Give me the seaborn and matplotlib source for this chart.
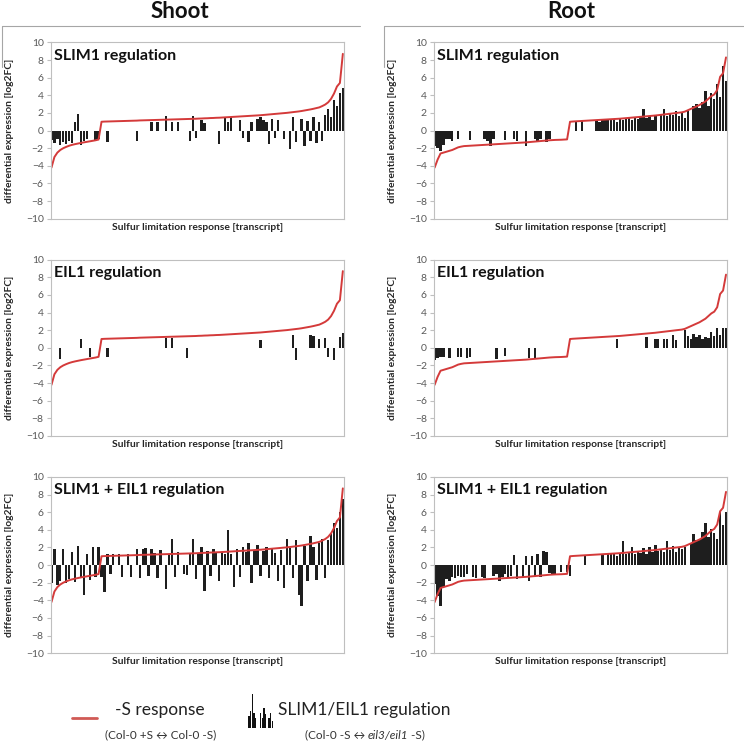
import matplotlib
matplotlib.use("Agg")
import matplotlib.pyplot as plt
import seaborn as sns
import pandas as pd
from matplotlib.lines import Line2D

# transcripts sorted by their -S response (x axis)
transcripts = list(range(100))

# -S response curve (Col-0 +S <-> Col-0 -S), log2FC
shoot_response = [
    -4.2, -3.0, -2.5, -2.2, -2.0, -1.85, -1.72, -1.62, -1.54, -1.47,
    -1.40, -1.34, -1.28, -1.22, -1.16, -1.10, -1.02, 1.00, 1.02, 1.03,
    1.04, 1.05, 1.06, 1.07, 1.08, 1.09, 1.10, 1.11, 1.12, 1.13,
    1.15, 1.16, 1.17, 1.18, 1.19, 1.20, 1.21, 1.22, 1.23, 1.24,
    1.25, 1.26, 1.27, 1.28, 1.29, 1.30, 1.31, 1.32, 1.33, 1.34,
    1.36, 1.37, 1.39, 1.40, 1.42, 1.43, 1.45, 1.46, 1.48, 1.50,
    1.52, 1.54, 1.56, 1.58, 1.60, 1.62, 1.64, 1.66, 1.68, 1.70,
    1.72, 1.74, 1.77, 1.80, 1.83, 1.86, 1.89, 1.92, 1.95, 1.98,
    2.01, 2.05, 2.09, 2.13, 2.17, 2.22, 2.28, 2.34, 2.40, 2.47,
    2.55, 2.63, 2.78, 2.95, 3.2, 3.6, 4.2, 5.0, 5.4, 8.7,
]
root_response = [
    -4.2, -3.3, -2.6, -2.5, -2.4, -2.3, -2.2, -2.05, -1.9, -1.82,
    -1.76, -1.74, -1.72, -1.70, -1.68, -1.66, -1.64, -1.62, -1.60, -1.58,
    -1.56, -1.54, -1.52, -1.50, -1.48, -1.46, -1.44, -1.42, -1.40, -1.38,
    -1.36, -1.34, -1.31, -1.28, -1.25, -1.22, -1.19, -1.16, -1.13, -1.10,
    -1.08, -1.06, -1.05, -1.04, -1.02, -1.00, 1.00, 1.03, 1.05, 1.07,
    1.09, 1.11, 1.13, 1.15, 1.17, 1.19, 1.21, 1.23, 1.25, 1.27,
    1.29, 1.31, 1.33, 1.35, 1.38, 1.41, 1.44, 1.47, 1.50, 1.53,
    1.56, 1.59, 1.62, 1.65, 1.68, 1.71, 1.75, 1.79, 1.83, 1.87,
    1.91, 1.95, 1.99, 2.03, 2.07, 2.15, 2.3, 2.45, 2.6, 2.75,
    2.9, 3.1, 3.3, 3.6, 3.9, 4.1, 4.6, 6.1, 6.5, 8.3,
]

# regulation (Col-0 -S <-> mutant -S), log2FC, 0 = not regulated
shoot_slim1 = [
    -1.1, -1.4, -1.0, -1.6, -1.3, -1.5, -1.2, -1.4, 1.0, 1.9,
    -1.6, -1.2, -1.0, 0, 0, -1.2, -0.9, 0, 0, -1.3,
    0, 0, 0, 0, 0, 0, 0, 0, 0, -1.2,
    0, 0, 0, 0, 1.0, 0, 1.0, 0, 0, 1.6,
    0, 1.0, 0, 1.0, 0, 0, 0, -1.2, 1.6, -0.8,
    0, 1.2, 0.9, 0, 0, 0, 0, -1.5, 0, 1.5,
    1.0, 1.5, 0, 0, 1.2, -0.8, 0, -1.3, 1.0, 0,
    1.3, 1.5, 1.2, 1.0, -1.5, 1.3, -0.8, 1.2, 0, -0.9,
    0, -2.1, 1.5, -1.3, 0, 1.3, -1.8, 1.1, -1.2, 1.5,
    -1.4, 1.0, -1.2, 1.8, 2.5, 1.5, 3.5, 2.8, 4.3, 4.8,
]
shoot_eil1 = [
    0, 0, 0, -1.3, 0, 0, 0, 0, 0, 0,
    1.0, 0, 0, -1.0, 0, 0, 0, 0, 0, -1.0,
    0, 0, 0, 0, 0, 0, 0, 0, 0, 0,
    0, 0, 0, 0, 0, 0, 0, 0, 0, 1.1,
    0, 1.1, 0, 0, 0, 0, -1.1, 0, 0, 0,
    0, 0, 0, 0, 0, 0, 0, 0, 0, 0,
    0, 0, 0, 0, 0, 0, 0, 0, 0, 0,
    0, 0.9, 0, 0, 0, 0, 0, 0, 0, 0,
    0, 0, 1.4, -1.4, 0, 0, 0, 0, 1.5, 1.3,
    0, 1.0, 0, 1.1, -1.0, 0, -1.4, 0, 1.2, 1.7,
]
shoot_both = [
    -2.0, 1.8, -2.3, -1.8, 1.8, -2.0, -1.6, 1.5, -1.9, 2.2,
    -1.5, -3.4, 1.3, -1.7, 2.0, -1.4, 2.1, -1.3, -3.0, 1.2,
    -1.0, 1.3, 0, 1.2, -1.4, 0, 1.3, -1.3, 0, 1.8,
    -1.5, 1.8, 1.9, -1.2, 1.8, 1.4, -1.5, 1.7, 0, -2.7,
    1.2, 3.0, -1.3, 1.5, 0, -1.0, -1.1, 1.4, 3.0, -1.6,
    1.3, 2.0, -2.9, 1.6, -1.2, 1.8, 1.4, -1.8, 1.5, 1.2,
    4.0, 1.3, -2.5, 1.8, -1.3, 2.0, 1.5, 2.5, -2.0, 1.7,
    2.3, -1.2, 1.6, 2.0, -1.5, 1.8, 1.4, -1.8, 1.7, -2.6,
    3.0, 1.9, -1.5, 2.8, -3.4, -4.6, 2.2, -1.8, 3.3, 2.0,
    -1.7, 2.5, 3.0, -1.5, 2.8, 3.5, 4.8, 4.2, 6.0, 7.5,
]
root_slim1 = [
    -1.8, -2.0, -2.3, -1.6, -1.0, -1.0, -1.2, 0, -1.0, 0,
    0, 0, -1.1, 0, 0, 0, 0, -1.0, -1.2, -1.8,
    -1.0, 0, 0, 0, -1.1, 0, 0, -1.0, -1.2, 0,
    0, -1.7, 0, 0, -1.0, -1.2, -1.0, 0, -1.3, -1.0,
    0, 0, 0, 0, 0, 0, 0, 0, 1.1, 0,
    1.1, 0, 0, 0, 0, 1.2, 1.0, 1.2, 1.2, 1.3,
    1.2, 1.3, 1.0, 1.4, 1.2, 1.3, 1.5, 1.2, 1.4, 1.3,
    1.6, 2.5, 1.4, 1.6, 1.2, 1.8, 0, 1.9, 2.4, 1.7,
    2.0, 1.8, 2.2, 1.6, 2.0, 1.4, 2.2, 0, 2.8, 3.0,
    2.6, 3.2, 4.5, 2.8, 4.3, 3.6, 5.3, 3.8, 7.3, 5.6,
]
root_eil1 = [
    -1.4, -1.2, -1.0, -1.0, 0, -1.1, 0, 0, -1.0, -1.0,
    0, -1.1, -1.0, 0, 0, 0, 0, 0, 0, 0,
    0, -1.3, 0, 0, -0.9, 0, 0, 0, 0, 0,
    0, 0, -1.1, 0, -1.2, 0, 0, 0, 0, 0,
    0, 0, 0, 0, 0, 0, 0, 0, 0, 0,
    0, 0, 0, 0, 0, 0, 0, 0, 0, 0,
    0, 0, 1.0, 0, 0, 0, 0, 0, 0, 0,
    0, 0, 1.2, 0, 0, 1.0, 1.0, 0, 1.0, 1.0,
    0, 1.5, 0.9, 0, 0, 2.0, 1.3, 1.0, 1.6, 1.2,
    1.4, 1.0, 1.2, 1.1, 1.8, 1.3, 2.2, 1.5, 2.3, 2.2,
]
root_both = [
    -2.2, -3.5, -4.6, -2.5, -1.6, -1.8, -1.3, -1.5, -1.2, -1.4,
    -1.3, -1.0, 0, -1.3, -1.5, 0, -1.3, -1.5, 0, 0,
    -1.2, -1.0, -1.8, -1.3, -1.0, -1.5, -1.2, 1.1, -1.6, 0,
    -1.5, 1.0, -1.8, 1.0, -1.3, 1.2, -1.4, 1.6, 1.5, -0.9,
    -1.0, -1.1, 0, -0.8, 0, -0.8, -1.2, 0, 0, 0,
    0, 1.0, 0, 0, 0, 0, 0, 1.2, 0, 1.3,
    1.2, 1.3, 1.0, 1.4, 2.7, 1.2, 1.5, 2.0, 1.3, 1.6,
    1.4, 1.9, 1.3, 2.0, 1.5, 2.3, 1.6, 1.8, 1.5, 2.7,
    1.7, 2.2, 1.5, 2.0, 1.8, 2.1, 0, 2.5, 3.5, 2.8,
    3.0, 3.8, 4.8, 3.2, 4.1, 3.6, 3.0, 6.0, 4.5, 6.0,
]

tissues = ["Shoot", "Root"]
panel_titles = ["SLIM1 regulation", "EIL1 regulation", "SLIM1 + EIL1 regulation"]
y_ticks = [-10, -8, -6, -4, -2, 0, 2, 4, 6, 8, 10]
legend_icon = [0.35, 0.5, 1.0, 0.45, 0.3, 0, 0, 0.45, 0.3, 0.6, 0.4, 0, 0.3, 0.45, 0.2]

responses = {"Shoot": shoot_response, "Root": root_response}
regulations = {
    "Shoot": [shoot_slim1, shoot_eil1, shoot_both],
    "Root": [root_slim1, root_eil1, root_both],
}

sns.set_style("white")
plt.rcParams["font.family"] = ["Lato", "DejaVu Sans"]

RED = "#d43a3a"
SPINE = "#bfbfbf"

fig = plt.figure(figsize=(7.44, 7.44), dpi=100)

col_left = {"Shoot": 0.068, "Root": 0.583}
row_bottom = [0.706, 0.414, 0.122]


def draw_panel(ax, response, regulation, title):
    df = pd.DataFrame({"transcript": transcripts,
                       "response": response,
                       "regulation": regulation})
    sns.barplot(data=df, x="transcript", y="regulation", color="#1e1e1e",
                saturation=1, width=0.8, linewidth=0, ax=ax)
    sns.lineplot(data=df, x="transcript", y="response", color=RED,
                 linewidth=1.4, ax=ax)
    ax.set_xlim(-0.3, len(transcripts) - 0.7)
    ax.set_ylim(-10, 10)
    ax.set_yticks(y_ticks)
    ax.set_xticks([])
    for sp in ax.spines.values():
        sp.set_color(SPINE)
        sp.set_linewidth(0.8)
    ax.tick_params(axis="y", left=True, length=3, width=0.8, color=SPINE,
                   labelcolor="#595959", labelsize=7.5, pad=2)
    ax.set_ylabel("differential expression [log2FC]", fontsize=7.4,
                  fontweight="bold", color="#262626")
    ax.yaxis.set_label_coords(-0.125, 0.5)
    ax.set_xlabel("Sulfur limitation response [transcript]", fontsize=7.4,
                  fontweight="bold", color="#262626")
    ax.xaxis.set_label_coords(0.5, -0.022)
    ax.text(0.012, 0.965, title, transform=ax.transAxes, ha="left", va="top",
            fontsize=11.5, fontweight="bold", color="#111111")


for tissue in tissues:
    for r, title in enumerate(panel_titles):
        ax = fig.add_axes([col_left[tissue], row_bottom[r], 0.394, 0.237])
        draw_panel(ax, responses[tissue], regulations[tissue][r], title)

# column headers with bracket lines
fig.text(180 / 744, 1 - 12 / 744, "Shoot", ha="center", va="center",
         fontsize=16, fontweight="bold", color="#111111")
fig.text(571 / 744, 1 - 12 / 744, "Root", ha="center", va="center",
         fontsize=16, fontweight="bold", color="#111111")
for x0, x1 in [(2 / 744, 360 / 744), (384 / 744, 1.0)]:
    fig.add_artist(Line2D([x0, x1], [1 - 26 / 744] * 2, color="#a6a6a6", lw=0.8))
    fig.add_artist(Line2D([x0, x0], [1 - 26 / 744, 1 - 67 / 744], color="#a6a6a6", lw=0.8))

# legend
fig.add_artist(Line2D([72 / 744, 97 / 744], [1 - 718 / 744] * 2, color="#d05a55", lw=2))
fig.text(160 / 744, 1 - 710 / 744, "-S response", ha="center", va="center",
         fontsize=12.5, color="#222222")
fig.text(364 / 744, 1 - 710 / 744, "SLIM1/EIL1 regulation", ha="center", va="center",
         fontsize=12.5, color="#222222")

ax_icon = fig.add_axes([248 / 744, 1 - 728 / 744, 25 / 744, 34 / 744])
sns.barplot(x=list(range(len(legend_icon))), y=legend_icon, color="#111111",
            saturation=1, width=0.8, linewidth=0, ax=ax_icon)
ax_icon.set_ylim(0, 1)
ax_icon.axis("off")


def rich_text(x_center, y, parts, size):
    renderer = fig.canvas.get_renderer()
    items = []
    for s, style in parts:
        t = fig.text(0, y, s, fontsize=size, style=style, color="#333333",
                     ha="left", va="center")
        items.append((t, t.get_window_extent(renderer).width))
    total = sum(w for _, w in items)
    x = x_center * fig.bbox.width - total / 2
    for t, w in items:
        t.set_x(x / fig.bbox.width)
        x += w


fig.canvas.draw()
rich_text(161 / 744, 1 - 735 / 744, [("(Col-0 +S \u2194 Col-0 -S)", "normal")], 8.5)
rich_text(365 / 744, 1 - 735 / 744,
          [("(Col-0 -S \u2194 ", "normal"), ("eil3/eil1", "italic"), (" -S)", "normal")], 8.5)

fig.savefig("out.png", dpi=100)
